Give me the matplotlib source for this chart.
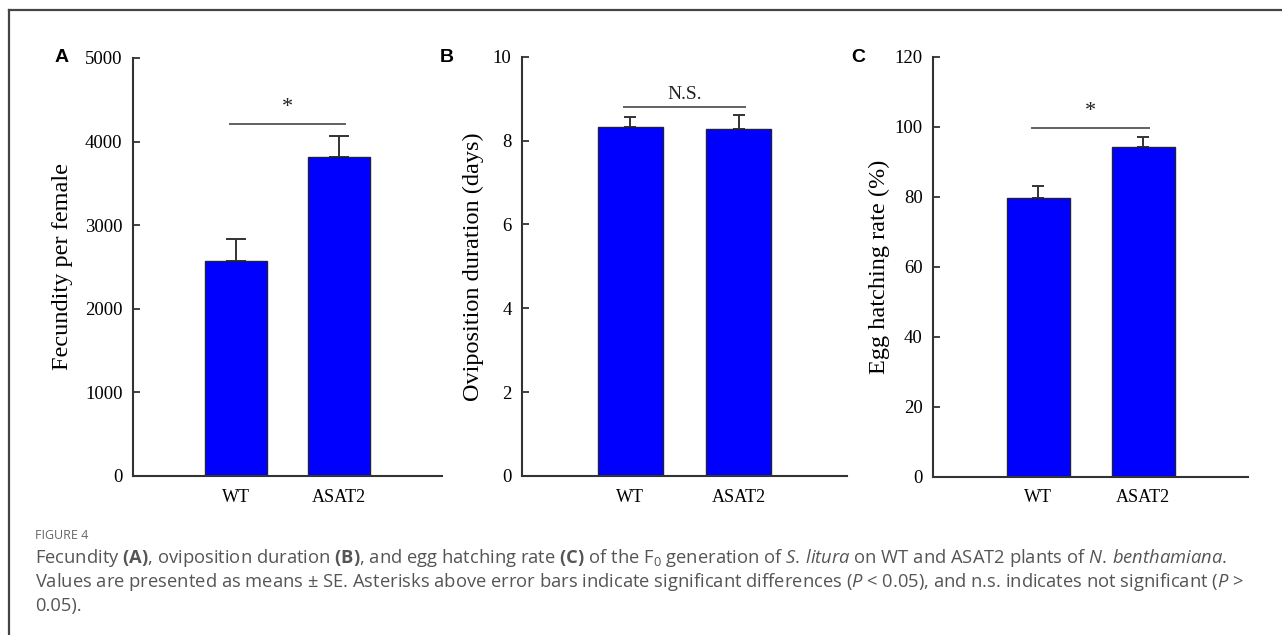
import numpy as np
import matplotlib
matplotlib.use("Agg")
import matplotlib.pyplot as plt
from matplotlib.lines import Line2D

# ---------------- data ----------------
groups = ["WT", "ASAT2"]

fecundity_mean = [2570, 3810]
fecundity_se = [270, 260]

oviposition_mean = [8.33, 8.27]
oviposition_se = [0.22, 0.33]

hatching_mean = [79.7, 94.2]
hatching_se = [3.3, 2.9]

panel_letters = ["A", "B", "C"]
ylabels = ["Fecundity per female", "Oviposition duration (days)", "Egg hatching rate (%)"]
yticks_A = [0, 1000, 2000, 3000, 4000, 5000]
yticks_B = [0, 2, 4, 6, 8, 10]
yticks_C = [0, 20, 40, 60, 80, 100, 120]
sig_labels = ["*", "N.S.", "*"]
sig_line_y = [4215, 8.81, 99.5]
sig_text_y = [4407, 9.09, 104.3]

# ---------------- style ----------------
W, H = 1282, 635
DPI = 100
plt.rcParams["mathtext.fontset"] = "custom"
plt.rcParams["mathtext.rm"] = "Open Sans"
plt.rcParams["mathtext.it"] = "Open Sans:italic"
plt.rcParams["mathtext.bf"] = "Open Sans:bold"

SERIF = "Liberation Serif"
BAR_COLOR = "#0000ff"
DARK = "#333333"

fig = plt.figure(figsize=(W / DPI, H / DPI), dpi=DPI)


def px_axes(x0, x1, ytop, ybot):
    return fig.add_axes([x0 / W, 1 - ybot / H, (x1 - x0) / W, (ybot - ytop) / H])


axes_px = [(133, 442, 58, 476), (522, 847, 56.7, 476), (933, 1248, 56.7, 476.5)]
means = [fecundity_mean, oviposition_mean, hatching_mean]
ses = [fecundity_se, oviposition_se, hatching_se]
yticks = [yticks_A, yticks_B, yticks_C]
capsizes = [7, 4.5, 4.5]
label_x = [-0.193, -0.116, -0.137]
letter_px = [(62, 58), (447, 58), (858, 58)]

x = np.arange(len(groups))
for i in range(3):
    ax = px_axes(*axes_px[i])
    m = np.array(means[i])
    s = np.array(ses[i])
    ax.errorbar(x, m, yerr=[np.zeros_like(s), s], fmt="none", ecolor=DARK,
                elinewidth=1.4, capsize=capsizes[i], capthick=1.4, zorder=1)
    ax.bar(x, m, width=0.6, color=BAR_COLOR, edgecolor="#202040", linewidth=1.0, zorder=2)
    ax.set_xlim(-1, 2)
    ax.set_ylim(yticks[i][0], yticks[i][-1])
    ax.set_yticks(yticks[i])
    ax.set_xticks(x)
    ax.set_xticklabels(groups, fontsize=13, family=SERIF)
    for lab in ax.get_yticklabels():
        lab.set_fontsize(13.5)
        lab.set_family(SERIF)
    ax.tick_params(axis="y", direction="in", length=5, width=1.3, color=DARK, pad=7.5)
    ax.tick_params(axis="x", length=0, pad=9)
    for sp in ["top", "right"]:
        ax.spines[sp].set_visible(False)
    for sp in ["left", "bottom"]:
        ax.spines[sp].set_color(DARK)
        ax.spines[sp].set_linewidth(1.5)
    ax.set_ylabel(ylabels[i], fontsize=17.5, family=SERIF)
    ax.yaxis.set_label_coords(label_x[i], 0.5)
    # significance annotation
    ax.plot([-0.07, 1.07], [sig_line_y[i], sig_line_y[i]], color="#555555", lw=1.3,
            solid_capstyle="butt", clip_on=False)
    ax.text(0.5, sig_text_y[i], sig_labels[i], ha="center", va="center",
            fontsize=14 if sig_labels[i] != "*" else 16, family=SERIF, color="#222222")
    ax.patch.set_alpha(0)
    lx, ly = letter_px[i]
    fig.text(lx / W, 1 - ly / H, panel_letters[i], ha="center", va="center",
             fontsize=14, fontweight="bold", family="Liberation Sans")

# ---------------- frame ----------------
fig.add_artist(Line2D([9 / W, 1.0], [1 - 10 / H, 1 - 10 / H], color="#444444", lw=1.6))
fig.add_artist(Line2D([9 / W, 9 / W], [1 - 10 / H, 0], color="#444444", lw=1.6))

# ---------------- caption ----------------
CAP = "#555555"
fig.text(35 / W, 1 - 539 / H, "FIGURE 4", fontsize=9, family="Open Sans",
         color="#666666", va="baseline", ha="left")
cap_lines = [
    r"Fecundity $\mathbf{(A)}$, oviposition duration $\mathbf{(B)}$, and egg hatching rate "
    r"$\mathbf{(C)}$ of the F$_\mathrm{0}$ generation of $\mathit{S.\,litura}$ on WT and ASAT2 "
    r"plants of $\mathit{N.\,benthamiana}$.",
    r"Values are presented as means ± SE. Asterisks above error bars indicate significant "
    r"differences ($\mathit{P}$ < 0.05), and n.s. indicates not significant ($\mathit{P}$ >",
    r"0.05).",
]
cap_base = [563.3, 587.3, 611]
for t, yb in zip(cap_lines, cap_base):
    fig.text(35 / W, 1 - yb / H, t, fontsize=13.2, family="Open Sans", color=CAP,
             va="baseline", ha="left")

fig.savefig("out.png", dpi=DPI)
